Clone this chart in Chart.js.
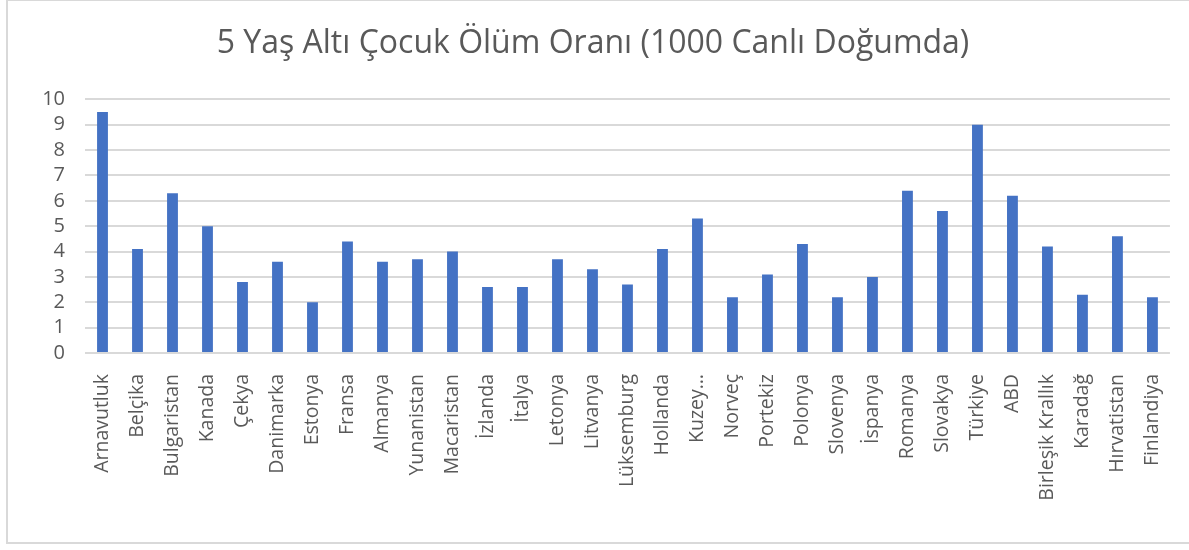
<!DOCTYPE html>
<html lang="tr">
<head>
<meta charset="utf-8">
<title>5 Yaş Altı Çocuk Ölüm Oranı</title>
<script src="https://cdn.jsdelivr.net/npm/chart.js@4/dist/chart.umd.min.js"></script>
<style>
  html, body { margin: 0; padding: 0; background: #fff; overflow: hidden; }
  .frame {
    position: absolute; left: 6px; top: -1px; width: 1200px; height: 545px;
    border: 2px solid #d9d9d9; box-sizing: border-box;
  }
  .chartBox { position: absolute; left: 7px; top: 1px; width: 1182px; height: 543px; }
</style>
</head>
<body>
<div class="frame"></div>
<div class="chartBox"><canvas id="olumChart"></canvas></div>
<script>
const ulkeler = [
  "Arnavutluk", "Belçika", "Bulgaristan", "Kanada", "Çekya", "Danimarka",
  "Estonya", "Fransa", "Almanya", "Yunanistan", "Macaristan", "İzlanda",
  "İtalya", "Letonya", "Litvanya", "Lüksemburg", "Hollanda", "Kuzey Makedonya",
  "Norveç", "Portekiz", "Polonya", "Slovenya", "İspanya", "Romanya",
  "Slovakya", "Türkiye", "ABD", "Birleşik Krallık", "Karadağ", "Hırvatistan",
  "Finlandiya"
];
const oranlar = [
  9.5, 4.1, 6.3, 5.0, 2.8, 3.6,
  2.0, 4.4, 3.6, 3.7, 4.0, 2.6,
  2.6, 3.7, 3.3, 2.7, 4.1, 5.3,
  2.2, 3.1, 4.3, 2.2, 3.0, 6.4,
  5.6, 9.0, 6.2, 4.2, 2.3, 4.6,
  2.2
];
const yTicks = [0, 1, 2, 3, 4, 5, 6, 7, 8, 9, 10];
// eksende kısaltılmış gösterilen adlar
const kisaAdlar = { "Kuzey Makedonya": "Kuzey…" };

const yazi = "'Open Sans', 'Noto Sans', sans-serif";
const gri = "#595959";

const ctx = document.getElementById("olumChart").getContext("2d");
new Chart(ctx, {
  type: "bar",
  data: {
    labels: ulkeler,
    datasets: [{
      label: "5 Yaş Altı Ölüm Oranı",
      data: oranlar,
      backgroundColor: "#4472C4",
      borderWidth: 0,
      barPercentage: 0.31,
      categoryPercentage: 1.0
    }]
  },
  options: {
    responsive: true,
    maintainAspectRatio: false,
    animation: false,
    layout: { padding: { left: 0, right: 10, top: 0, bottom: 0 } },
    plugins: {
      legend: { display: false },
      tooltip: { enabled: false },
      title: {
        display: true,
        text: "5 Yaş Altı Çocuk Ölüm Oranı (1000 Canlı Doğumda)",
        color: gri,
        font: { family: yazi, size: 32, weight: "normal", lineHeight: 1.2 },
        padding: { top: 24, bottom: 36 }
      }
    },
    scales: {
      x: {
        grid: { display: false },
        border: { display: false },
        ticks: {
          color: gri,
          font: { family: yazi, size: 19.5 },
          minRotation: 90,
          maxRotation: 90,
          autoSkip: false,
          padding: 13,
          callback: function (val) {
            const ad = this.getLabelForValue(val);
            return kisaAdlar[ad] || ad;
          }
        },
        afterFit: (scale) => { scale.height = 191; }
      },
      y: {
        min: 0,
        max: 10,
        afterBuildTicks: (scale) => { scale.ticks = yTicks.map(v => ({ value: v })); },
        grid: { color: "#d9d9d9", lineWidth: 2, drawTicks: false },
        border: { display: false },
        ticks: {
          color: gri,
          font: { family: yazi, size: 20 },
          autoSkip: false,
          padding: 20
        },
        afterFit: (scale) => { scale.width = 78; }
      }
    }
  }
});
</script>
</body>
</html>
